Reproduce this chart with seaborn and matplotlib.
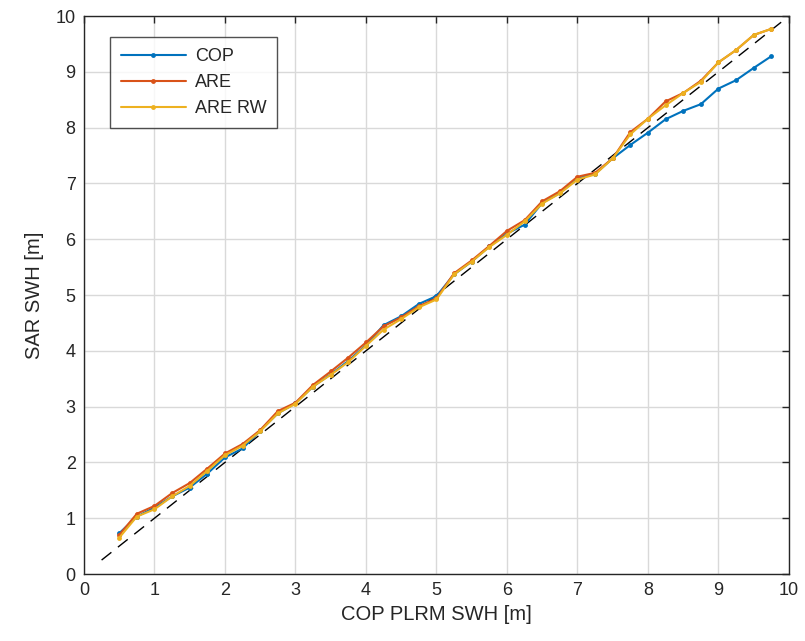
import numpy as np
import pandas as pd
import matplotlib
matplotlib.use("Agg")
import matplotlib.pyplot as plt
import seaborn as sns

# COP PLRM SWH bins [m]
plrm_swh = [0.5, 0.75, 1.0, 1.25, 1.5, 1.75, 2.0, 2.25, 2.5, 2.75, 3.0, 3.25, 3.5,
            3.75, 4.0, 4.25, 4.5, 4.75, 5.0, 5.25, 5.5, 5.75, 6.0, 6.25, 6.5, 6.75,
            7.0, 7.25, 7.5, 7.75, 8.0, 8.25, 8.5, 8.75, 9.0, 9.25, 9.5, 9.75]

sar_cop = [0.73, 1.03, 1.19, 1.39, 1.55, 1.80, 2.09, 2.25, 2.57, 2.88, 3.06, 3.36,
           3.58, 3.82, 4.10, 4.46, 4.62, 4.84, 4.98, 5.37, 5.60, 5.87, 6.10, 6.26,
           6.65, 6.83, 7.09, 7.17, 7.45, 7.69, 7.91, 8.15, 8.30, 8.42, 8.70, 8.85,
           9.07, 9.28]
sar_are = [0.70, 1.08, 1.22, 1.45, 1.63, 1.89, 2.16, 2.33, 2.58, 2.92, 3.07, 3.39,
           3.63, 3.88, 4.15, 4.44, 4.60, 4.80, 4.94, 5.39, 5.62, 5.88, 6.15, 6.34,
           6.68, 6.86, 7.12, 7.19, 7.45, 7.92, 8.16, 8.47, 8.62, 8.84, 9.17, 9.39,
           9.66, 9.77]
sar_are_rw = [0.65, 1.03, 1.16, 1.39, 1.58, 1.85, 2.13, 2.30, 2.56, 2.88, 3.05, 3.36,
              3.57, 3.80, 4.09, 4.38, 4.57, 4.78, 4.92, 5.37, 5.60, 5.86, 6.08, 6.32,
              6.64, 6.82, 7.07, 7.16, 7.45, 7.88, 8.16, 8.40, 8.62, 8.82, 9.17, 9.39,
              9.66, 9.77]

series_names = ["COP", "ARE", "ARE RW"]
colors = ["#0072BD", "#D95319", "#EDB120"]

df = pd.DataFrame({
    "plrm": plrm_swh * 3,
    "sar": sar_cop + sar_are + sar_are_rw,
    "series": np.repeat(series_names, len(plrm_swh)),
})

sns.set_style("white")
plt.rcParams["font.family"] = ["Liberation Sans", "DejaVu Sans"]

fig = plt.figure(figsize=(8.05, 6.41), dpi=100)
ax = fig.add_axes([0.1043, 0.1045, 0.8758, 0.8705])

ax.grid(True, color="#d9d9d9", linewidth=1.0)
ax.set_axisbelow(True)

sns.lineplot(data=df, x="plrm", y="sar", hue="series", hue_order=series_names,
             palette=colors, marker="o", markersize=3.5, markeredgewidth=0,
             linewidth=1.5, ax=ax, legend=True)

# 1:1 reference line
ax.plot([0.25, 10], [0.25, 10], linestyle=(0, (9, 6)), color="black", linewidth=1.0, zorder=1)

ax.set_xlim(0, 10)
ax.set_ylim(0, 10)
ax.set_xticks(range(0, 11))
ax.set_yticks(range(0, 11))
ax.tick_params(direction="in", length=5, width=1, top=True, right=True,
               labelsize=13, colors="#262626", pad=6)
for s in ax.spines.values():
    s.set_color("#262626")
    s.set_linewidth(1.0)

ax.set_xlabel("COP PLRM SWH [m]", fontsize=14.5, color="#262626", labelpad=4)
ax.set_ylabel("SAR SWH [m]", fontsize=14.5, color="#262626", labelpad=8)

leg = ax.legend(loc="upper left", bbox_to_anchor=(0.037, 0.962), borderaxespad=0,
                fontsize=13, frameon=True, fancybox=False, edgecolor="#262626",
                handlelength=3.6, handletextpad=0.5, borderpad=0.6, labelspacing=0.5)
leg.get_frame().set_linewidth(1.0)

fig.savefig("out.png", dpi=100)
